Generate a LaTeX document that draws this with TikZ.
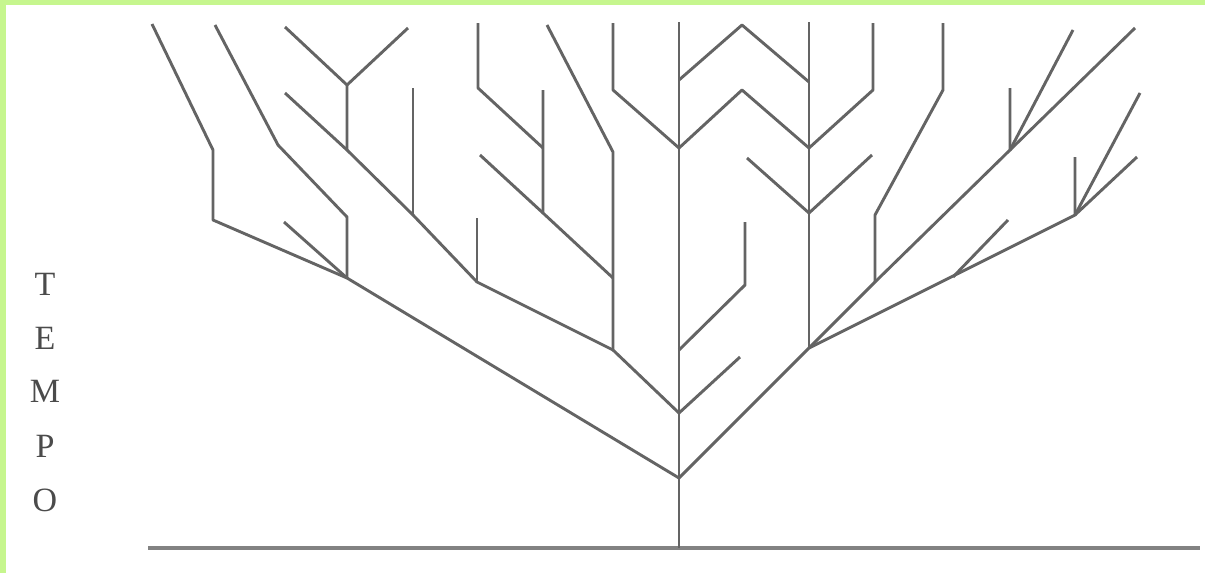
\documentclass[tikz,border=0pt]{standalone}
\usepackage{fontspec}
\setmainfont{Liberation Serif}
\definecolor{bordergreen}{RGB}{198,246,142}
\definecolor{branchgray}{RGB}{100,100,100}
\definecolor{basegray}{RGB}{130,130,130}
\definecolor{textgray}{RGB}{75,75,75}
\begin{document}
\begin{tikzpicture}[x=1pt,y=-1pt,
  branch/.style={draw=branchgray, line width=2.9pt, line join=round},
  ground/.style={draw=basegray, line width=4.5pt},
  letter/.style={text=textgray, font=\fontsize{34}{40}\selectfont, anchor=base, inner sep=0pt}]
\useasboundingbox (0,0) rectangle (1205,573);
\fill[white] (0,0) rectangle (1205,573);
\fill[bordergreen] (0,0) rectangle (1205,5);
\fill[bordergreen] (0,0) rectangle (6,573);

% ---- coordinates ----
\coordinate (bl) at (148,548);
\coordinate (br) at (1200,548);
\coordinate (base) at (679,548);
\coordinate (r0) at (679,478);
\coordinate (t1) at (679,413);
\coordinate (t2) at (679,350);
\coordinate (t3) at (679,148);
\coordinate (t4) at (679,80);
\coordinate (ttop) at (679,22);
% left main branch
\coordinate (L1) at (347,278);
\coordinate (L1a) at (347,217);
\coordinate (L1b) at (278,145);
\coordinate (L1c) at (215,25);
\coordinate (L1leaf) at (284,222);
\coordinate (L2) at (213,220);
\coordinate (L2a) at (213,150);
\coordinate (L2b) at (152,24);
% left inner subtree
\coordinate (M1) at (613,350);
\coordinate (M1a) at (613,278);
\coordinate (M1b) at (613,152);
\coordinate (M1c) at (547,25);
\coordinate (N1) at (543,213);
\coordinate (N1leaf) at (480,155);
\coordinate (N2) at (543,148);
\coordinate (N2leaf) at (543,90);
\coordinate (N2a) at (478,88);
\coordinate (N2b) at (478,23);
\coordinate (P1) at (477,282);
\coordinate (P1leaf) at (477,218);
\coordinate (P2) at (413,215);
\coordinate (P2leaf) at (413,88);
\coordinate (P3) at (347,150);
\coordinate (P3a) at (347,85);
\coordinate (P3l) at (285,27);
\coordinate (P3r) at (408,28);
\coordinate (P4) at (285,93);
% trunk side branches
\coordinate (Q1) at (745,285);
\coordinate (Q2) at (745,222);
\coordinate (Q3) at (740,357);
\coordinate (U1) at (613,90);
\coordinate (U2) at (613,23);
\coordinate (C1) at (742,90);
\coordinate (C2) at (742,25);
% right main branch
\coordinate (R1) at (809,348);
\coordinate (S1) at (809,213);
\coordinate (S2) at (809,148);
\coordinate (S3) at (809,82);
\coordinate (Stop) at (809,22);
\coordinate (S1l) at (747,158);
\coordinate (S1r) at (872,155);
\coordinate (S2a) at (873,90);
\coordinate (S2b) at (873,23);
\coordinate (R2) at (875,282);
\coordinate (R2a) at (875,215);
\coordinate (R2b) at (943,90);
\coordinate (R2c) at (943,23);
\coordinate (R3) at (1010,150);
\coordinate (R3a) at (1010,88);
\coordinate (R3b) at (1073,30);
\coordinate (R3c) at (1135,28);
\coordinate (Rl1) at (953,277);
\coordinate (Rl2) at (1008,220);
\coordinate (R4) at (1075,215);
\coordinate (R4a) at (1075,157);
\coordinate (R4b) at (1140,93);
\coordinate (R4c) at (1137,157);

% ---- ground ----
\draw[ground] (bl) -- (br);

% ---- trunk ----
\draw[branch] (base) -- (ttop);

% ---- left main ----
\draw[branch] (r0) -- (L1) -- (L2) -- (L2a) -- (L2b);
\draw[branch] (L1) -- (L1a) -- (L1b) -- (L1c);
\draw[branch] (L1leaf) -- (L1);

% ---- left inner subtree ----
\draw[branch] (t1) -- (M1) -- (M1b) -- (M1c);
\draw[branch] (M1) -- (P1) -- (P2) -- (P3) -- (P4);
\draw[branch] (P1) -- (P1leaf);
\draw[branch] (P2) -- (P2leaf);
\draw[branch] (P3) -- (P3a) -- (P3l);
\draw[branch] (P3a) -- (P3r);
\draw[branch] (M1a) -- (N1) -- (N2) -- (N2leaf);
\draw[branch] (N1) -- (N1leaf);
\draw[branch] (N2) -- (N2a) -- (N2b);

% ---- trunk side branches ----
\draw[branch] (t2) -- (Q1) -- (Q2);
\draw[branch] (t1) -- (Q3);
\draw[branch] (U2) -- (U1) -- (t3);
\draw[branch] (t3) -- (C1) -- (S2);
\draw[branch] (t4) -- (C2) -- (S3);

% ---- right main ----
\draw[branch] (r0) -- (R1) -- (R4) -- (R4a);
\draw[branch] (R4) -- (R4b);
\draw[branch] (R4) -- (R4c);
\draw[branch] (R1) -- (Stop);
\draw[branch] (S1l) -- (S1) -- (S1r);
\draw[branch] (S2) -- (S2a) -- (S2b);
\draw[branch] (R1) -- (R2) -- (R3) -- (R3a);
\draw[branch] (R3) -- (R3b);
\draw[branch] (R3) -- (R3c);
\draw[branch] (R2) -- (R2a) -- (R2b) -- (R2c);
\draw[branch] (Rl1) -- (Rl2);

% ---- label ----
\node[letter] (lT) at (45,295) {T};
\node[letter] (lE) at (45,349) {E};
\node[letter] (lM) at (45,402) {M};
\node[letter] (lP) at (45,457) {P};
\node[letter] (lO) at (45,511) {O};
\end{tikzpicture}
\end{document}
